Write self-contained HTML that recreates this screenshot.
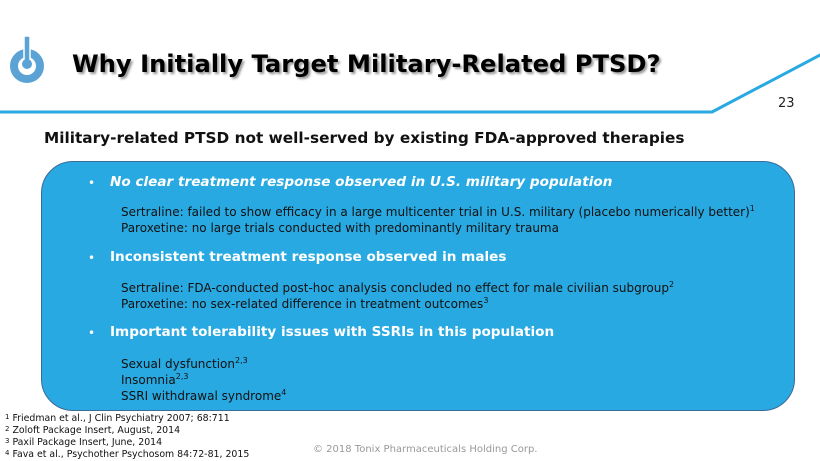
<!DOCTYPE html>
<html><head><meta charset="utf-8"><style>
body{margin:0;width:820px;height:461px;position:relative;background:#fff;overflow:hidden;font-family:"DejaVu Sans","Liberation Sans",sans-serif;}
.a{position:absolute;white-space:nowrap;}
.title{left:72px;top:50px;font-family:"DejaVu Sans",sans-serif;font-weight:bold;font-size:24.2px;color:#000;text-shadow:2px 2px 2px #999;}
.sub{left:44px;top:129px;font-weight:bold;font-size:15.3px;color:#111;}
.box{position:absolute;left:41px;top:161px;width:752px;height:248px;background:#29a9e1;border:1px solid #3c6a99;border-radius:32px;}
.b{font-weight:bold;font-size:13.6px;color:#fff;left:110px;}
.dot{font-size:12px;color:#fff;left:88px;}
.t{font-size:12px;color:#111;left:121px;}
sup{font-size:8px;vertical-align:5px;line-height:0;}
.fn{font-size:9.4px;color:#111;left:5px;}
.fn sup{font-size:7px;vertical-align:2px;}
</style></head><body>
<svg class="a" style="left:0;top:0" width="820" height="130">
<line x1="0" y1="112" x2="713" y2="112" stroke="#29a9e1" stroke-width="3"/>
<line x1="712" y1="112" x2="822" y2="54" stroke="#29a9e1" stroke-width="3"/>
<circle cx="27" cy="66" r="13" fill="none" stroke="#5ba3d5" stroke-width="8"/>
<rect x="24" y="36" width="6" height="28" fill="#5ba3d5" stroke="#fff" stroke-width="1.5"/>
<circle cx="27" cy="64" r="5" fill="#5ba3d5"/>
</svg>
<div class="a title">Why Initially Target Military-Related PTSD?</div>
<div class="a" style="left:778px;top:96px;font-size:13px;color:#222;">23</div>
<div class="a sub">Military-related PTSD not well-served by existing FDA-approved therapies</div>
<div class="box"></div>
<div class="a dot" style="top:176px">•</div>
<div class="a b" style="top:174px;font-style:italic">No clear treatment response observed in U.S. military population</div>
<div class="a t" style="top:205px">Sertraline: failed to show efficacy in a large multicenter trial in U.S. military (placebo numerically better)<sup>1</sup></div>
<div class="a t" style="top:221px">Paroxetine: no large trials conducted with predominantly military trauma</div>
<div class="a dot" style="top:251px">•</div>
<div class="a b" style="top:249px">Inconsistent treatment response observed in males</div>
<div class="a t" style="top:281px">Sertraline: FDA-conducted post-hoc analysis concluded no effect for male civilian subgroup<sup>2</sup></div>
<div class="a t" style="top:297px">Paroxetine: no sex-related difference in treatment outcomes<sup>3</sup></div>
<div class="a dot" style="top:326px">•</div>
<div class="a b" style="top:324px">Important tolerability issues with SSRIs in this population</div>
<div class="a t" style="top:357px">Sexual dysfunction<sup>2,3</sup></div>
<div class="a t" style="top:373px">Insomnia<sup>2,3</sup></div>
<div class="a t" style="top:389px">SSRI withdrawal syndrome<sup>4</sup></div>
<div class="a fn" style="top:413px"><sup>1</sup> Friedman et al., J Clin Psychiatry 2007; 68:711</div>
<div class="a fn" style="top:425px"><sup>2</sup> Zoloft Package Insert, August, 2014</div>
<div class="a fn" style="top:437px"><sup>3</sup> Paxil Package Insert, June, 2014</div>
<div class="a fn" style="top:449px"><sup>4</sup> Fava et al., Psychother Psychosom 84:72-81, 2015</div>
<div class="a" style="left:313px;top:444px;font-size:10px;color:#999;">© 2018 Tonix Pharmaceuticals Holding Corp.</div>
</body></html>
